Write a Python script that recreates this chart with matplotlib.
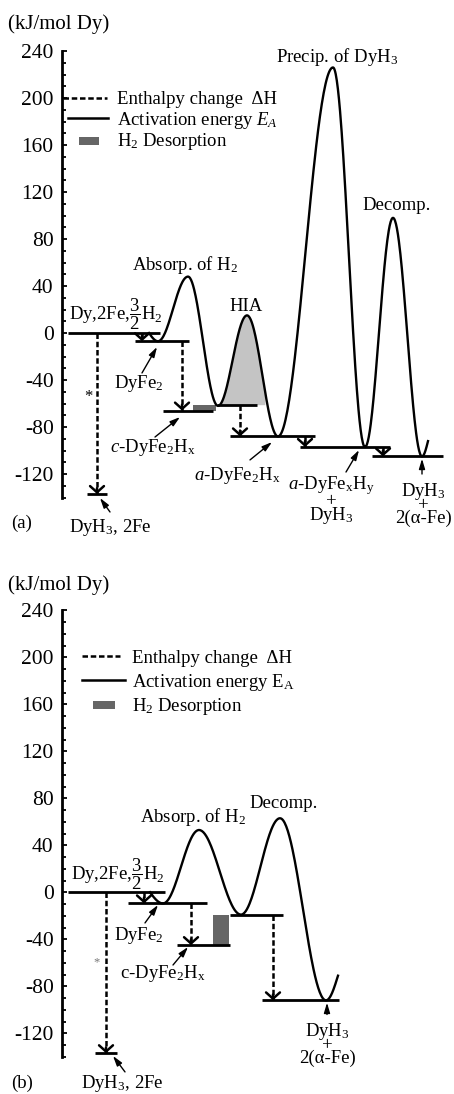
import numpy as np
import matplotlib
matplotlib.use('Agg')
import matplotlib.pyplot as plt
from matplotlib.patches import Rectangle, FancyArrowPatch

plt.rcParams['font.family'] = ['Liberation Serif', 'DejaVu Serif']
plt.rcParams['mathtext.fontset'] = 'custom'
plt.rcParams['mathtext.rm'] = 'Liberation Serif'
plt.rcParams['mathtext.it'] = 'Liberation Serif:italic'
plt.rcParams['mathtext.bf'] = 'Liberation Serif:bold'
plt.rcParams['axes.unicode_minus'] = False

# ---------------- panel (a) : energies in kJ/mol Dy ----------------
# energy levels (reaction coordinate start/end, energy)
a_level_x0 = [68, 87, 135, 163, 217, 230, 300, 372]
a_level_x1 = [160, 107, 189, 213, 257, 315, 390, 443]
a_level_E = [0, -137, -7, -66, -61, -88, -97, -105]
# activation energy path: extrema along reaction coordinate
a_path_x = [149, 158, 188, 218, 247, 278, 333, 365, 393, 422, 428]
a_path_E = [0, -7, 48, -62, 15, -88, 226, -97, 98, -105, -92]
# enthalpy change arrows
a_dh_x = [97, 142, 182, 240, 305, 383]
a_dh_from = [0, 0, -7, -61, -88, -97]
a_dh_to = [-137, -7, -66, -88, -97, -105]
# H2 desorption block and HIA region
a_des_x = [193, 216]
a_des_E = [-66, -61]
a_hia_x = [218, 265]
a_hia_base = -61

# ---------------- panel (b) ----------------
b_level_x0 = [68, 95, 128, 177, 230, 262]
b_level_x1 = [165, 117, 207, 230, 283, 339]
b_level_E = [0, -137, -9.5, -45, -19, -92]
b_path_x = [150, 163, 199, 241, 280, 326, 338]
b_path_E = [0, -9.5, 53, -19, 63, -92, -71]
b_dh_x = [106, 144, 191, 273]
b_dh_from = [0, 0, -9.5, -19]
b_dh_to = [-137, -9.5, -45, -92]
b_des_x = [213, 229]
b_des_E = [-45, -19]

yticks = [-120, -80, -40, 0, 40, 80, 120, 160, 200, 240]

DASH = (0, (2.2, 1.1))
LBL = 13.5


def path_curve(xs, es, n=60):
    # smooth reaction path through the extrema
    px, py = [], []
    last = len(xs) - 2
    for i in range(len(xs) - 1):
        t = np.linspace(0, 1, n)
        if i == 0:
            s = np.sin(t * np.pi / 2)
        elif i == last:
            s = 1 - np.cos(t * np.pi / 2)
        else:
            s = (1 - np.cos(t * np.pi)) / 2
        px.append(xs[i] + (xs[i + 1] - xs[i]) * t)
        py.append(es[i] + (es[i + 1] - es[i]) * s)
    return np.concatenate(px), np.concatenate(py)


def setup_axes(ax, ylim):
    ax.set_xlim(0, 454)
    ax.set_ylim(*ylim)
    for s in ['top', 'right', 'bottom']:
        ax.spines[s].set_visible(False)
    ax.spines['left'].set_position(('data', 62))
    ax.spines['left'].set_bounds(-140, 240)
    ax.spines['left'].set_linewidth(2.0)
    ax.set_xticks([])
    ax.set_yticks(yticks)
    ax.set_yticks(np.arange(-140, 241, 10), minor=True)
    ax.tick_params(axis='y', which='major', direction='in', length=3.5, width=1.3,
                   labelsize=15.5, pad=6)
    ax.tick_params(axis='y', which='minor', direction='in', length=3, width=1.3)
    ax.patch.set_alpha(0)


def draw_levels(ax, x0, x1, E):
    for a, b, e in zip(x0, x1, E):
        ax.plot([a, b], [e, e], color='black', lw=2.0, solid_capstyle='butt')


def draw_dh(ax, xs, e_from, e_to):
    for x, a, b in zip(xs, e_from, e_to):
        ax.plot([x, x], [a, b], color='black', lw=1.8, linestyle=DASH)
        head = FancyArrowPatch((x, b + 5), (x, b), arrowstyle='->,head_length=0.45,head_width=0.5',
                               mutation_scale=10, lw=1.8, color='black', shrinkA=0, shrinkB=0)
        ax.add_patch(head)


def pointer(ax, tail, tip):
    ax.annotate('', xy=tip, xytext=tail,
                arrowprops=dict(arrowstyle='-|>,head_length=0.6,head_width=0.18',
                                lw=1.0, color='black', shrinkA=0, shrinkB=0))


def stacked(ax, x, y_bottom, top, bottom):
    # two product names joined by a small "+" line; y is the last line's baseline
    ax.text(x, y_bottom, top + '\n+\n' + bottom, fontsize=LBL, ha='center', va='baseline',
            multialignment='center', linespacing=0.66)


def legend(ax, x_line, x_rect, x_text, y_lines, y_rect, y_text, ea_label):
    ax.plot(x_line[0], [y_lines[0]] * 2, color='black', lw=1.8, linestyle=DASH)
    ax.plot(x_line[1], [y_lines[1]] * 2, color='black', lw=1.8)
    ax.add_patch(Rectangle((x_rect[0], y_rect[0]), x_rect[1] - x_rect[0], y_rect[1] - y_rect[0],
                           facecolor='#666666', edgecolor='none'))
    ax.text(x_text, y_text[0], 'Enthalpy change  \u0394H', fontsize=LBL, va='baseline')
    ax.text(x_text, y_text[1], 'Activation energy ' + ea_label, fontsize=LBL, va='baseline')
    ax.text(x_text, y_text[2], 'H$_2$ Desorption', fontsize=LBL, va='baseline')


fig = plt.figure(figsize=(4.54, 10.94), dpi=100)
ax_a = fig.add_axes([0, 0.5, 1, 0.5])
ax_b = fig.add_axes([0, 0, 1, 0.5])

# ---------------- (a) ----------------
ax = ax_a
setup_axes(ax, (-182.1, 283.4))
px, py = path_curve(a_path_x, a_path_E)
hia = (px >= a_hia_x[0]) & (px <= a_hia_x[1])
ax.fill_between(px[hia], a_hia_base, py[hia], where=py[hia] > a_hia_base,
                color='#c4c4c4', lw=0)
ax.add_patch(Rectangle((a_des_x[0], a_des_E[0]), a_des_x[1] - a_des_x[0], a_des_E[1] - a_des_E[0],
                       facecolor='#666666', edgecolor='none'))
draw_levels(ax, a_level_x0, a_level_x1, a_level_E)
ax.plot(px, py, color='black', lw=1.7)
draw_dh(ax, a_dh_x, a_dh_from, a_dh_to)

ax.text(8, 259, '(kJ/mol Dy)', fontsize=15, va='baseline')
ax.text(337, 231, 'Precip. of DyH$_3$', fontsize=LBL, ha='center', va='baseline')
ax.text(397, 104.7, 'Decomp.', fontsize=LBL, ha='center', va='baseline')
ax.text(185, 53.6, 'Absorp. of H$_2$', fontsize=LBL, ha='center', va='baseline')
ax.text(246, 18.7, 'HIA', fontsize=LBL, ha='center', va='baseline')
ax.text(116, 11, r'Dy,2Fe,$\dfrac{3}{2}$H$_2$', fontsize=LBL, ha='center', va='baseline')
ax.text(139, -46.8, 'DyFe$_2$', fontsize=LBL, ha='center', va='baseline')
ax.text(153, -101.3, r'$c$-DyFe$_2$H$_{\rm x}$', fontsize=LBL, ha='center', va='baseline')
ax.text(237, -125.1, r'$a$-DyFe$_2$H$_{\rm x}$', fontsize=LBL, ha='center', va='baseline')
stacked(ax, 331, -159.1, r'$a$-DyFe$_{\rm x}$H$_{\rm y}$', 'DyH$_3$')
stacked(ax, 423, -161.7, 'DyH$_3$', '2(\u03b1-Fe)')
ax.text(110, -169.4, 'DyH$_3$, 2Fe', fontsize=LBL, ha='center', va='baseline')
ax.text(22, -166, '(a)', fontsize=LBL, ha='center', va='baseline')
ax.text(88, -54.5, '*', fontsize=12, ha='center', va='center')

pointer(ax, (110, -152.3), (100, -140.4))
pointer(ax, (142, -34), (157, -11.9))
pointer(ax, (155, -88.5), (180, -71.5))
pointer(ax, (250, -108), (272, -92.8))
pointer(ax, (346, -118.3), (359, -99.6))
pointer(ax, (422, -120), (422, -107))

legend(ax, ([63, 107], [68, 108]), [79, 99], 117, [200, 182.7], [160, 166.8],
       [194.9, 177, 159.1], '$E_A$')

# ---------------- (b) ----------------
ax = ax_b
setup_axes(ax, (-171.7, 293.9))
px, py = path_curve(b_path_x, b_path_E)
ax.add_patch(Rectangle((b_des_x[0], b_des_E[0]), b_des_x[1] - b_des_x[0], b_des_E[1] - b_des_E[0],
                       facecolor='#666666', edgecolor='none'))
draw_levels(ax, b_level_x0, b_level_x1, b_level_E)
ax.plot(px, py, color='black', lw=1.7)
draw_dh(ax, b_dh_x, b_dh_from, b_dh_to)

ax.text(8, 257.3, '(kJ/mol Dy)', fontsize=15, va='baseline')
ax.text(193, 59.8, 'Absorp. of H$_2$', fontsize=LBL, ha='center', va='baseline')
ax.text(284, 71.7, 'Decomp.', fontsize=LBL, ha='center', va='baseline')
ax.text(118, 10.5, r'Dy,2Fe,$\dfrac{3}{2}$H$_2$', fontsize=LBL, ha='center', va='baseline')
ax.text(139, -40.6, 'DyFe$_2$', fontsize=LBL, ha='center', va='baseline')
ax.text(163, -73, r'c-DyFe$_2$H$_{\rm x}$', fontsize=LBL, ha='center', va='baseline')
stacked(ax, 327, -145.3, 'DyH$_3$', '2(\u03b1-Fe)')
ax.text(122, -166.6, 'DyH$_3$, 2Fe', fontsize=LBL, ha='center', va='baseline')
ax.text(22, -166.6, '(b)', fontsize=LBL, ha='center', va='baseline')
ax.text(97, -59.3, '*', fontsize=9, ha='center', va='center', color='#777777')

pointer(ax, (145, -26.1), (158, -10.8))
pointer(ax, (173, -61.9), (188, -46.6))
pointer(ax, (327, -104), (327, -94))
pointer(ax, (125, -152.9), (113, -139.3))

legend(ax, ([82, 120], [82, 125]), [93, 115], 132, [201.1, 180.7], [156.1, 162.9],
       [195.1, 174.7, 154.3], 'E$_{\\rm A}$')

fig.savefig('out.png', dpi=100)
